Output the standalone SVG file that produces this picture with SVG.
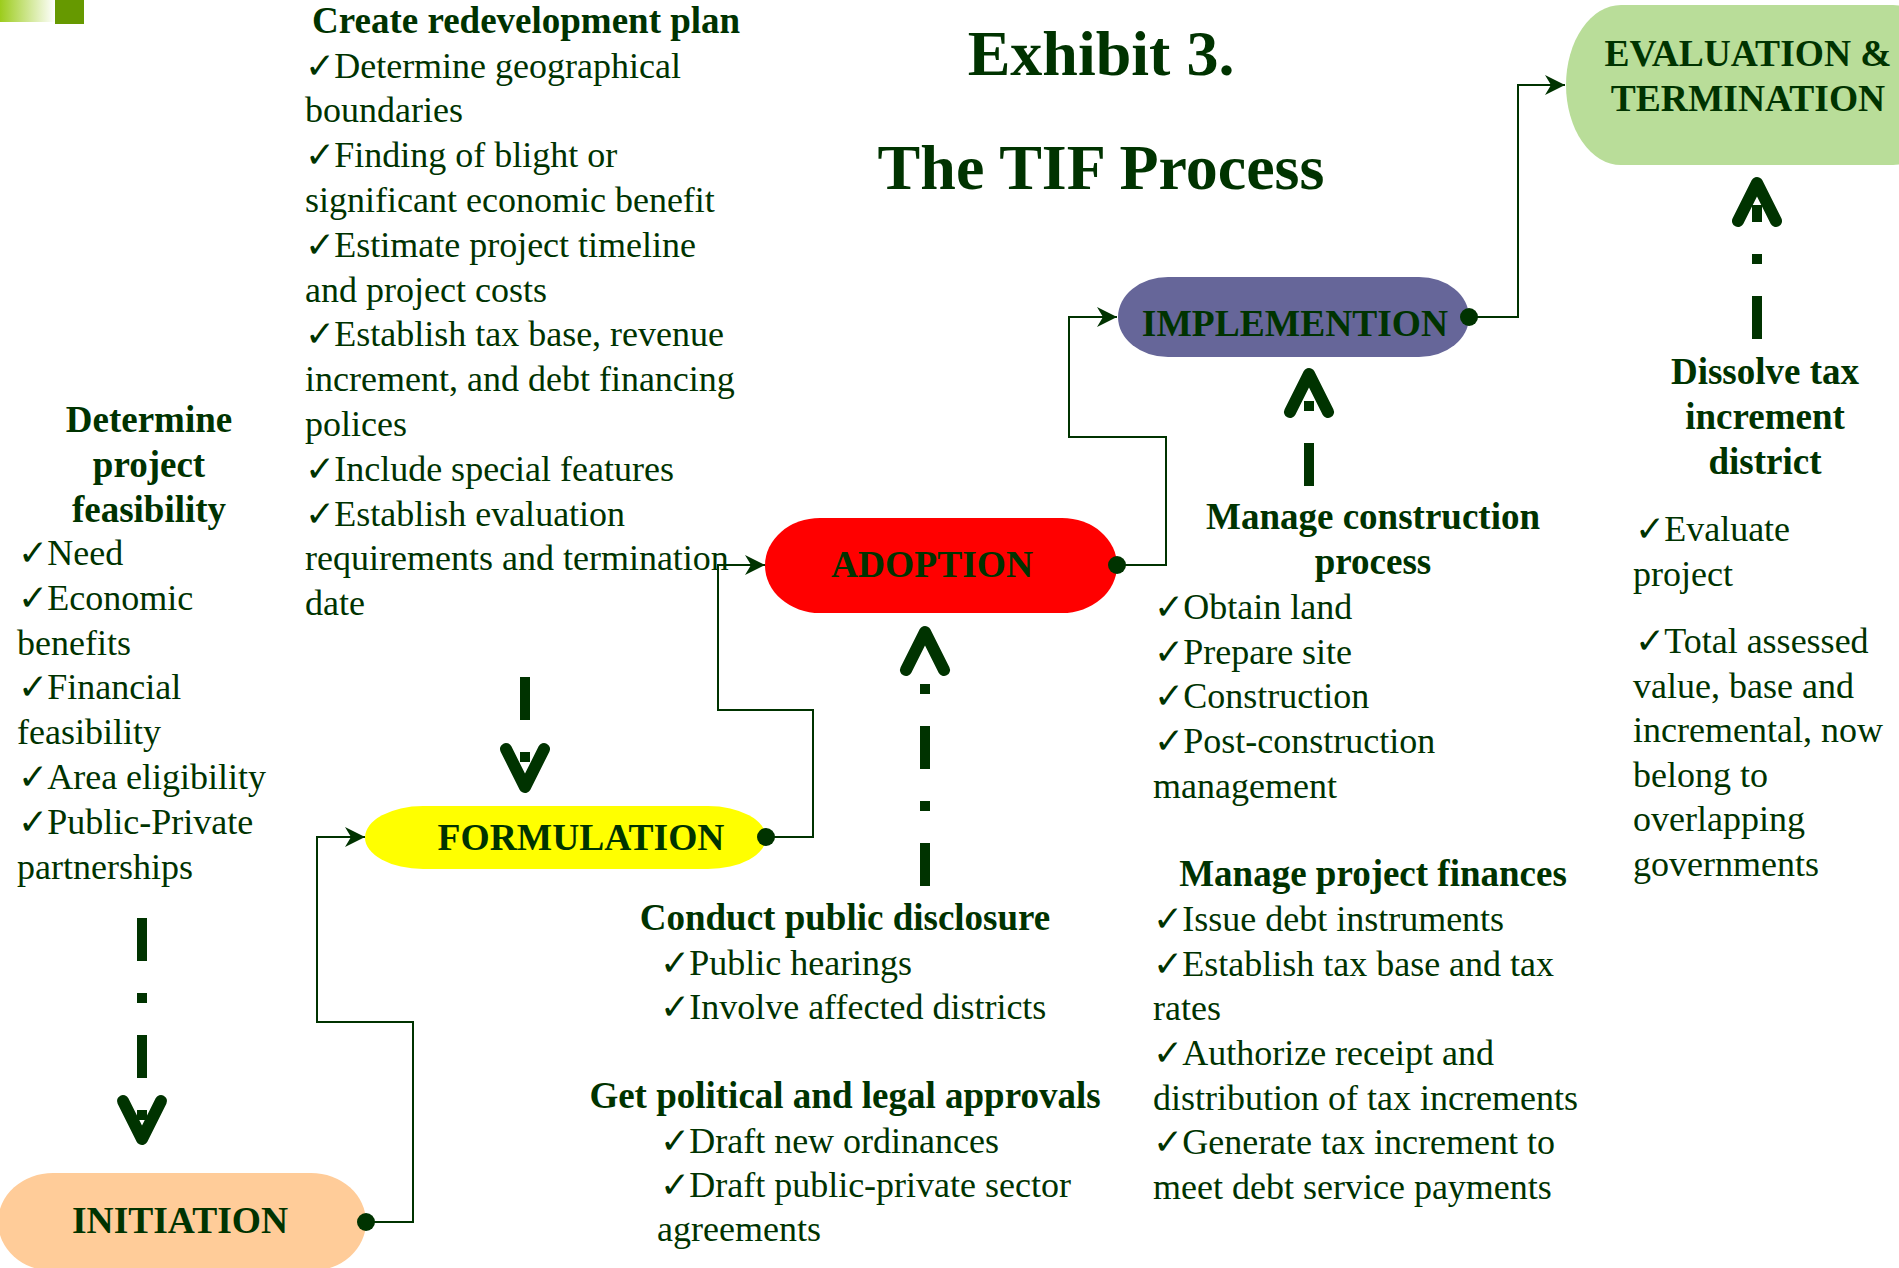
<svg xmlns="http://www.w3.org/2000/svg" xmlns:xlink="http://www.w3.org/1999/xlink" width="1899" height="1268" viewBox="0 0 1899 1268">
  <defs>
    <style>
      .t { font-family: "Liberation Serif", "Times New Roman", serif; font-size: 36px; fill: #003300; }
      .h { font-family: "Liberation Serif", "Times New Roman", serif; font-size: 37px; font-weight: bold; fill: #003300; }
      .c { text-anchor: middle; }
      .ck { font-family: "DejaVu Sans", sans-serif; font-size: 36px; font-weight: bold; letter-spacing: -1px; }
      .lbl { font-family: "Liberation Serif", "Times New Roman", serif; font-size: 37.5px; font-weight: bold; fill: #003300; text-anchor: middle; }
      .title { font-family: "Liberation Serif", "Times New Roman", serif; font-size: 64px; font-weight: bold; fill: #003300; text-anchor: middle; }
      .conn { fill: none; stroke: #003300; stroke-width: 2; marker-start: url(#dot); marker-end: url(#arr); }
      .dd { fill: none; stroke: #003300; stroke-width: 10; stroke-dasharray: 43 32 10 32; }
      .vh { fill: none; stroke: #003300; stroke-width: 12; stroke-linecap: round; stroke-linejoin: round; }
    </style>
    <linearGradient id="fade" x1="0" y1="0" x2="1" y2="0">
      <stop offset="0" stop-color="#9ccc1c"/>
      <stop offset="1" stop-color="#ffffff"/>
    </linearGradient>
    <marker id="arr" markerUnits="userSpaceOnUse" viewBox="-22 -11 24 22" refX="0" refY="0" markerWidth="24" markerHeight="22" orient="auto">
      <path d="M0,0 L-20,-10 L-14,0 L-20,10 Z" fill="#003300"/>
    </marker>
    <marker id="dot" markerUnits="userSpaceOnUse" viewBox="-10 -10 20 20" refX="0" refY="0" markerWidth="20" markerHeight="20">
      <circle r="9" fill="#003300"/>
    </marker>
    <!-- open chevron head for the dash-dot arrows; tip at origin, pointing up -->
    <path id="vhead" d="M-19,44 L0,6 L19,44"/>
  </defs>

  <rect width="1899" height="1268" fill="#ffffff"/>

  <!-- corner decoration -->
  <g id="corner">
    <rect x="0" y="0" width="55" height="22" fill="url(#fade)"/>
    <rect x="55" y="0" width="29" height="24" fill="#669900"/>
  </g>

  <g id="title">
    <text class="title" x="1101" y="75">Exhibit 3.</text>
    <text class="title" x="1101" y="189">The TIF Process</text>
  </g>

  <!-- process nodes -->
  <g id="initiation">
    <rect x="-2" y="1173" width="368" height="98" rx="55" ry="49" fill="#ffcc99"/>
    <text class="lbl" x="180" y="1233">INITIATION</text>
  </g>
  <g id="formulation">
    <rect x="365" y="806" width="401" height="63" rx="58" ry="31.5" fill="#ffff00"/>
    <text class="lbl" x="581" y="850">FORMULATION</text>
  </g>
  <g id="adoption">
    <rect x="765" y="518" width="352" height="95" rx="55" ry="47.5" fill="#ff0000"/>
    <text class="lbl" x="932" y="577">ADOPTION</text>
  </g>
  <g id="implementation">
    <rect x="1118" y="277" width="351" height="80" rx="50" ry="40" fill="#666699"/>
    <text class="lbl" x="1295" y="336">IMPLEMENTION</text>
  </g>
  <g id="evaluation">
    <rect x="1566" y="5" width="382" height="160" rx="55" ry="80" fill="#b9dd99"/>
    <text class="lbl" x="1748" y="66">EVALUATION &amp;</text>
    <text class="lbl" x="1748" y="111">TERMINATION</text>
  </g>

  <!-- annotation blocks -->
  <g id="plan-notes">
    <text class="h" x="312" y="33">Create redevelopment plan</text>
    <text class="t" x="305" y="78"><tspan class="ck">✓</tspan>Determine geographical</text>
    <text class="t" x="305" y="122">boundaries</text>
    <text class="t" x="305" y="167"><tspan class="ck">✓</tspan>Finding of blight or</text>
    <text class="t" x="305" y="212">significant economic benefit</text>
    <text class="t" x="305" y="257"><tspan class="ck">✓</tspan>Estimate project timeline</text>
    <text class="t" x="305" y="302">and project costs</text>
    <text class="t" x="305" y="346"><tspan class="ck">✓</tspan>Establish tax base, revenue</text>
    <text class="t" x="305" y="391">increment, and debt financing</text>
    <text class="t" x="305" y="436">polices</text>
    <text class="t" x="305" y="481"><tspan class="ck">✓</tspan>Include special features</text>
    <text class="t" x="305" y="526"><tspan class="ck">✓</tspan>Establish evaluation</text>
    <text class="t" x="305" y="570">requirements and termination</text>
    <text class="t" x="305" y="615">date</text>
  </g>

  <g id="feasibility-notes">
    <text class="h c" x="149" y="432">Determine</text>
    <text class="h c" x="149" y="477">project</text>
    <text class="h c" x="149" y="522">feasibility</text>
    <text class="t" x="18" y="565"><tspan class="ck">✓</tspan>Need</text>
    <text class="t" x="18" y="610"><tspan class="ck">✓</tspan>Economic</text>
    <text class="t" x="17" y="655">benefits</text>
    <text class="t" x="18" y="699"><tspan class="ck">✓</tspan>Financial</text>
    <text class="t" x="17" y="744">feasibility</text>
    <text class="t" x="18" y="789"><tspan class="ck">✓</tspan>Area eligibility</text>
    <text class="t" x="18" y="834"><tspan class="ck">✓</tspan>Public-Private</text>
    <text class="t" x="17" y="879">partnerships</text>
  </g>

  <g id="disclosure-notes">
    <text class="h c" x="845" y="930">Conduct public disclosure</text>
    <text class="t" x="660" y="975"><tspan class="ck">✓</tspan>Public hearings</text>
    <text class="t" x="660" y="1019"><tspan class="ck">✓</tspan>Involve affected districts</text>
    <text class="h c" x="845" y="1108">Get political and legal approvals</text>
    <text class="t" x="660" y="1153"><tspan class="ck">✓</tspan>Draft new ordinances</text>
    <text class="t" x="660" y="1197"><tspan class="ck">✓</tspan>Draft public-private sector</text>
    <text class="t" x="657" y="1241">agreements</text>
  </g>

  <g id="construction-notes">
    <text class="h c" x="1373" y="529">Manage construction</text>
    <text class="h c" x="1373" y="574">process</text>
    <text class="t" x="1154" y="619"><tspan class="ck">✓</tspan>Obtain land</text>
    <text class="t" x="1154" y="664"><tspan class="ck">✓</tspan>Prepare site</text>
    <text class="t" x="1154" y="708"><tspan class="ck">✓</tspan>Construction</text>
    <text class="t" x="1154" y="753"><tspan class="ck">✓</tspan>Post-construction</text>
    <text class="t" x="1153" y="798">management</text>
  </g>

  <g id="finance-notes">
    <text class="h c" x="1373" y="886">Manage project finances</text>
    <text class="t" x="1153" y="931"><tspan class="ck">✓</tspan>Issue debt instruments</text>
    <text class="t" x="1153" y="976"><tspan class="ck">✓</tspan>Establish tax base and tax</text>
    <text class="t" x="1153" y="1020">rates</text>
    <text class="t" x="1153" y="1065"><tspan class="ck">✓</tspan>Authorize receipt and</text>
    <text class="t" x="1153" y="1110">distribution of tax increments</text>
    <text class="t" x="1153" y="1154"><tspan class="ck">✓</tspan>Generate tax increment to</text>
    <text class="t" x="1153" y="1199">meet debt service payments</text>
  </g>

  <g id="dissolve-notes">
    <text class="h c" x="1765" y="384">Dissolve tax</text>
    <text class="h c" x="1765" y="429">increment</text>
    <text class="h c" x="1765" y="474">district</text>
    <text class="t" x="1635" y="541"><tspan class="ck">✓</tspan>Evaluate</text>
    <text class="t" x="1633" y="586">project</text>
    <text class="t" x="1635" y="653"><tspan class="ck">✓</tspan>Total assessed</text>
    <text class="t" x="1633" y="698">value, base and</text>
    <text class="t" x="1633" y="742">incremental, now</text>
    <text class="t" x="1633" y="787">belong to</text>
    <text class="t" x="1633" y="831">overlapping</text>
    <text class="t" x="1633" y="876">governments</text>
  </g>

  <!-- connectors -->
  <g id="connectors">
    <!-- stage-to-stage flow lines -->
    <path class="conn" d="M366,1222 H413 V1022 H317 V837 H365"/>
    <path class="conn" d="M766,837 H813 V710 H718 V565 H765"/>
    <path class="conn" d="M1117,565 H1166 V437 H1069 V317 H1117"/>
    <path class="conn" d="M1469,317 H1518 V85 H1565"/>

    <!-- dash-dot arrows from the annotation blocks -->
    <line class="dd" x1="142" y1="918" x2="142" y2="1120"/>
    <use xlink:href="#vhead" class="vh" transform="translate(142,1145) rotate(180)"/>

    <line class="dd" x1="525" y1="677" x2="525" y2="762"/>
    <use xlink:href="#vhead" class="vh" transform="translate(525,793) rotate(180)"/>

    <line class="dd" x1="925" y1="886" x2="925" y2="682"/>
    <use xlink:href="#vhead" class="vh" transform="translate(925,626)"/>

    <line class="dd" x1="1309" y1="486" x2="1309" y2="401"/>
    <use xlink:href="#vhead" class="vh" transform="translate(1309,368)"/>

    <line class="dd" x1="1757" y1="339" x2="1757" y2="205"/>
    <use xlink:href="#vhead" class="vh" transform="translate(1757,177)"/>
  </g>
</svg>
